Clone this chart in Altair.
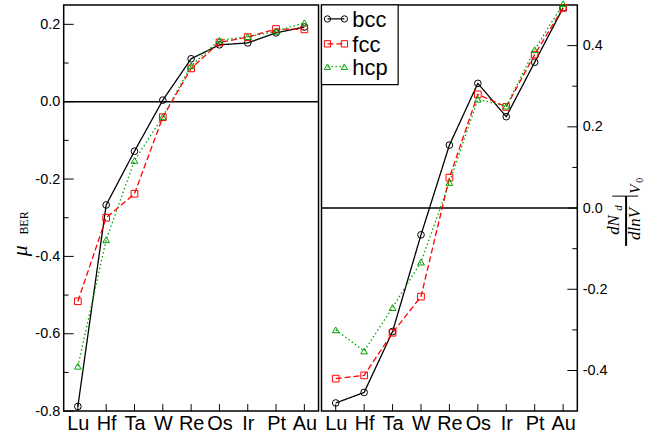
import altair as alt
import pandas as pd

elements = ["Lu", "Hf", "Ta", "W", "Re", "Os", "Ir", "Pt", "Au"]

mu_bcc = [-0.788, -0.267, -0.128, 0.004, 0.111, 0.147, 0.152, 0.178, 0.193]
mu_fcc = [-0.516, -0.300, -0.238, -0.040, 0.086, 0.153, 0.167, 0.188, 0.187]
mu_hcp = [-0.684, -0.357, -0.152, -0.039, 0.093, 0.159, 0.168, 0.182, 0.204]

dn_bcc = [-0.480, -0.454, -0.304, -0.066, 0.155, 0.307, 0.225, 0.359, 0.493]
dn_fcc = [-0.420, -0.412, -0.307, -0.218, 0.075, 0.280, 0.249, 0.378, 0.493]
dn_hcp = [-0.300, -0.352, -0.245, -0.133, 0.063, 0.268, 0.251, 0.390, 0.503]

series_names = ["bcc", "fcc", "hcp"]
series_colors = ["#000000", "#ff0000", "#00a000"]
series_shapes = ["circle", "square", "triangle-up"]
series_dash = [[1, 0], [6, 3], [1.5, 2.5]]

left_domain = [-0.8, 0.25]
left_major = [-0.8, -0.6, -0.4, -0.2, 0.0, 0.2]
left_minor = [-0.7, -0.5, -0.3, -0.1, 0.1]
right_domain = [-0.5, 0.5]
right_major = [-0.4, -0.2, 0.0, 0.2, 0.4]
right_minor = [-0.3, -0.1, 0.1, 0.3]

WL, WR, H = 256, 257, 408
SANS = "Liberation Sans"
SERIF = "Liberation Serif"
LABEL_EXPR = "replace(format(datum.value, '.1f'), '\u2212', '-')"


def xenc():
    return alt.X("el:N", sort=elements,
                 scale=alt.Scale(type="point", padding=0.5),
                 axis=alt.Axis(title=None, labelAngle=0, labelFont=SANS,
                               labelFontSize=20, labelPadding=2, labelColor="black",
                               ticks=False, tickSize=0, domain=False, grid=False))


def yenc(domain, orient, major, pad):
    return alt.Y("v:Q", scale=alt.Scale(domain=domain, nice=False, zero=False),
                 axis=alt.Axis(title=None, orient=orient, values=major,
                               labelExpr=LABEL_EXPR, labelFont=SANS,
                               labelFontSize=14.5, labelPadding=pad, labelColor="black",
                               labelFlush=False, labelOverlap=False,
                               ticks=False, tickSize=0, domain=False, grid=False))


def long_df(vals):
    rows = []
    for s, arr in zip(series_names, vals):
        for e, v in zip(elements, arr):
            rows.append({"el": e, "v": v, "series": s})
    return pd.DataFrame(rows)


def text_layer(txt, x, y, size, font=SERIF, style="italic"):
    return alt.Chart(pd.DataFrame({"t": [txt]})).mark_text(
        angle=270, font=font, fontStyle=style, fontSize=size,
        align="center", baseline="alphabetic", color="black"
    ).encode(x=alt.value(x), y=alt.value(y), text="t:N")


def panel(vals, domain, major, minor, orient, width, pad):
    df = long_df(vals)
    y = yenc(domain, orient, major, pad)
    layers = []
    layers.append(alt.Chart(pd.DataFrame({"v": [0.0]})).mark_rule(
        color="black", strokeWidth=1.5).encode(y=y))
    if orient == "left":
        mx, mx2, nx, nx2 = 0, 10, 0, 5
    else:
        mx, mx2, nx, nx2 = width - 10, width, width - 5, width
    layers.append(alt.Chart(pd.DataFrame({"v": major})).mark_rule(
        color="black", strokeWidth=1).encode(y=y, x=alt.value(mx), x2=alt.value(mx2)))
    layers.append(alt.Chart(pd.DataFrame({"v": minor})).mark_rule(
        color="black", strokeWidth=1).encode(y=y, x=alt.value(nx), x2=alt.value(nx2)))
    layers.append(alt.Chart(pd.DataFrame({"el": elements})).mark_rule(
        color="black", strokeWidth=1).encode(x=xenc(), y=alt.value(H), y2=alt.value(H - 7)))
    for s, c, sh, d in zip(series_names, series_colors, series_shapes, series_dash):
        sub = df[df.series == s]
        layers.append(alt.Chart(sub).mark_line(
            color=c, strokeDash=d, strokeWidth=1.3).encode(x=xenc(), y=y))
        layers.append(alt.Chart(sub).mark_point(
            shape=sh, filled=False, color=c, size=45, strokeWidth=1, opacity=1
        ).encode(x=xenc(), y=y))
    return layers


# ---------- left panel ----------
left_layers = panel([mu_bcc, mu_fcc, mu_hcp], left_domain, left_major, left_minor,
                    "left", WL, 4)
# invisible layout spacer fixing the page extent
left_layers.insert(0, alt.Chart(pd.DataFrame({"a": [0]})).mark_rect(
    fill="white", opacity=0).encode(
    x=alt.value(-63), x2=alt.value(583), y=alt.value(-10), y2=alt.value(436)))
left_layers.append(text_layer("\u03bc", -37, 247, 22))
left_layers.append(text_layer("BER", -35.5, 219, 12, style="normal"))
left = alt.layer(*left_layers).properties(width=WL, height=H)

# ---------- right panel ----------
right_layers = panel([dn_bcc, dn_fcc, dn_hcp], right_domain, right_major, right_minor,
                     "right", WR, 5)
right_layers.append(alt.Chart(pd.DataFrame({"a": [0]})).mark_rect(
    fill="white", stroke="black", strokeWidth=1.2).encode(
    x=alt.value(0), x2=alt.value(77), y=alt.value(0), y2=alt.value(80)))
leg_rows = [14, 39, 62]
for s, c, sh, d, ly in zip(series_names, series_colors, series_shapes, series_dash, leg_rows):
    right_layers.append(alt.Chart(pd.DataFrame({"a": [0]})).mark_rule(
        color=c, strokeDash=d, strokeWidth=1.3).encode(
        x=alt.value(6), x2=alt.value(23), y=alt.value(ly)))
    for px in (6, 23):
        right_layers.append(alt.Chart(pd.DataFrame({"a": [0]})).mark_point(
            shape=sh, filled=False, color=c, size=40, strokeWidth=1, opacity=1).encode(
            x=alt.value(px), y=alt.value(ly)))
    right_layers.append(alt.Chart(pd.DataFrame({"t": [s]})).mark_text(
        font=SANS, fontSize=22, align="left", baseline="middle", color="black").encode(
        x=alt.value(31), y=alt.value(ly + 1), text="t:N"))
# right axis title: dN_d / dlnV |_V0
right_layers.append(text_layer("dN", 299, 221, 17))
right_layers.append(text_layer("d", 302, 204, 11))
right_layers.append(alt.Chart(pd.DataFrame({"a": [0]})).mark_rule(
    color="black", strokeWidth=2).encode(
    x=alt.value(306), y=alt.value(192), y2=alt.value(242)))
right_layers.append(text_layer("dlnV", 319.5, 220, 17))
right_layers.append(alt.Chart(pd.DataFrame({"a": [0]})).mark_rule(
    color="black", strokeWidth=1).encode(
    x=alt.value(292), x2=alt.value(318), y=alt.value(192)))
right_layers.append(text_layer("V", 320, 185, 15))
right_layers.append(text_layer("0", 323, 176, 10, style="normal"))
right = alt.layer(*right_layers).properties(width=WR, height=H)

chart = alt.hconcat(left, right, spacing=3, bounds="flush").properties(
    padding={"top": -7, "left": 0, "right": 0, "bottom": 0}, background="white"
).configure_view(stroke="black", strokeWidth=1.5)

chart.save("out.html", embed_options={"renderer": "svg", "actions": False})
